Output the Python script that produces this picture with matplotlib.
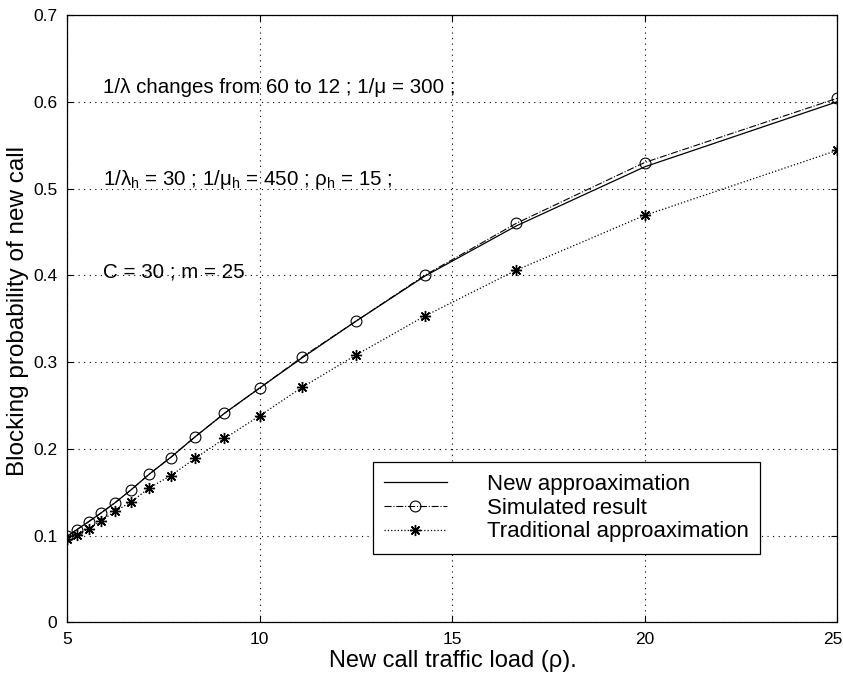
import matplotlib
matplotlib.use("Agg")
import matplotlib.pyplot as plt
from matplotlib.transforms import ScaledTranslation

plt.rcParams['font.family'] = ['Liberation Sans', 'DejaVu Sans']
plt.rcParams['mathtext.fontset'] = 'custom'
plt.rcParams['mathtext.rm'] = 'Liberation Sans'
plt.rcParams['mathtext.it'] = 'Liberation Sans'

rho = [5.00, 5.26, 5.56, 5.88, 6.25, 6.67, 7.14, 7.69, 8.33, 9.09, 10.00,
       11.11, 12.50, 14.29, 16.67, 20.00, 25.00]
new_approx = [0.099, 0.107, 0.116, 0.126, 0.138, 0.153, 0.171, 0.190, 0.214,
              0.241, 0.270, 0.305, 0.347, 0.399, 0.457, 0.525, 0.600]
simulated = [0.099, 0.107, 0.116, 0.126, 0.138, 0.153, 0.171, 0.190, 0.214,
             0.241, 0.270, 0.306, 0.347, 0.400, 0.460, 0.530, 0.604]
traditional = [0.096, 0.101, 0.108, 0.117, 0.128, 0.139, 0.155, 0.169, 0.189,
               0.212, 0.238, 0.271, 0.308, 0.353, 0.406, 0.469, 0.544]

xticks = [5, 10, 15, 20, 25]
yticks = [0, 0.1, 0.2, 0.3, 0.4, 0.5, 0.6, 0.7]
labels = ["New approaximation", "Simulated result", "Traditional approaximation"]
notes = ["1/\u03bb changes from 60 to 12 ; 1/\u03bc = 300 ;",
         "1/\u03bb$_\\mathrm{h}$ = 30 ; 1/\u03bc$_\\mathrm{h}$ = 450 ; \u03c1$_\\mathrm{h}$ = 15 ;",
         "C = 30 ; m = 25"]
note_y = [0.610, 0.504, 0.398]

fig = plt.figure(figsize=(8.43, 6.77), dpi=100)
ax = fig.add_axes([0.0795, 0.0807, 0.9135, 0.8971])

ax.plot(rho, new_approx, '-', color='black', lw=0.9, label=labels[0])
ax.plot(rho, simulated, '-.', color='black', lw=0.8, marker='o', ms=7.8,
        mfc='none', mec='black', mew=0.8, label=labels[1])
ax.plot(rho, traditional, ':', color='black', lw=0.9, marker=(8, 2, 0), ms=8,
        mec='black', mew=1.0, label=labels[2])

ax.set_xlim(5, 25)
ax.set_ylim(0, 0.7)
ax.set_xticks(xticks)
ax.set_yticks(yticks)
ax.set_xticklabels([str(t) for t in xticks], fontsize=12.5)
ax.set_yticklabels([('%g' % t) for t in yticks], fontsize=12.5)
ax.tick_params(direction='in', length=4, width=0.8, top=True, right=True, pad=7)
ax.grid(True, linestyle=(0, (1, 4)), color='black', linewidth=0.8)
for s in ax.spines.values():
    s.set_linewidth(0.9)

# keep the last x tick label inside the canvas
last = ax.get_xticklabels()[-1]
last.set_transform(last.get_transform() + ScaledTranslation(-4 / 100, 0, fig.dpi_scale_trans))

ax.set_xlabel("New call traffic load (\u03c1).", fontsize=17)
ax.set_ylabel("Blocking probability of new call", fontsize=17.5)
ax.xaxis.set_label_coords(0.5006, -0.045)
ax.yaxis.set_label_coords(-0.049, 0.512)

for t, y in zip(notes, note_y):
    ax.text(5.935, y, t, fontsize=14.8, va='baseline', ha='left')

leg = ax.legend(loc='lower left', bbox_to_anchor=(0.397, 0.1126), fontsize=16,
                frameon=True, fancybox=False, edgecolor='black', framealpha=1,
                numpoints=1, handlelength=2.8, handletextpad=1.8,
                labelspacing=0.13, borderpad=0.52, borderaxespad=0)
leg.get_frame().set_linewidth(0.9)

fig.savefig("out.png", dpi=100)
